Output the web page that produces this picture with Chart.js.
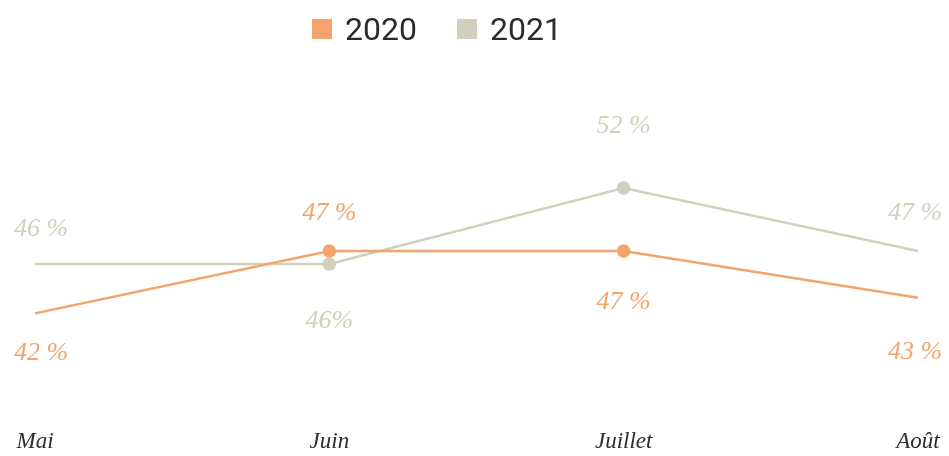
<!DOCTYPE html>
<html>
<head>
<meta charset="utf-8">
<script src="https://cdn.jsdelivr.net/npm/chart.js@4"></script>
<style>
  html, body { margin: 0; padding: 0; background: #fff; }
  #wrap { position: relative; width: 949px; height: 456px; }
  #legend { position: absolute; top: 10px; left: 312px; display: flex; align-items: center;
            font-family: Roboto, sans-serif; font-size: 32px; color: #2a2b2e; }
  #legend span.box { display: inline-block; width: 20px; height: 20px; margin-right: 13px; }
  #legend span.item { display: flex; align-items: center; margin-right: 40px; }
</style>
</head>
<body>
<div id="wrap">
  <canvas id="chart" width="949" height="456"></canvas>
  <div id="legend"></div>
</div>
<script>
"use strict"

// == data
const months = ["Mai", "Juin", "Juillet", "Août"]
const values2020 = [42.2, 47, 47, 43.4]
const values2021 = [46, 46, 51.85, 47]
const labels2020 = ["42 %", "47 %", "47 %", "43 %"]
const labels2021 = ["46 %", "46%", "52 %", "47 %"]

const orange = "#F2A46B"
const beige = "#D2CFBC"

// where each value label sits relative to its point (px, negative = above)
const offsets2020 = [40, -38, 51, 54]
const offsets2021 = [-35, 57, -62, -38]

// legend is plain html so it can sit a bit left of centre like the original
function BuildLegend() {
    let legend = document.getElementById("legend")
    let items = [["2020", orange], ["2021", beige]]
    for (let i = 0; i < items.length; i++) {
        let el = document.createElement("span")
        el.className = "item"
        el.innerHTML = '<span class="box" style="background:' + items[i][1] + '"></span>' + items[i][0]
        legend.appendChild(el)
    }
}

const valueLabels = {
    id: "valueLabels",
    afterDatasetsDraw(chart) {
        let ctx = chart.ctx
        let texts = [labels2020, labels2021]
        let offs = [offsets2020, offsets2021]
        ctx.save()
        ctx.font = "italic 26px 'Liberation Serif', serif"
        ctx.textAlign = "center"
        ctx.textBaseline = "middle"
        chart.data.datasets.forEach(function(ds, d) {
            let meta = chart.getDatasetMeta(d)
            ctx.fillStyle = ds.borderColor
            meta.data.forEach(function(pt, i) {
                let x = pt.x
                if (i == 0) x += 6
                if (i == meta.data.length - 1) x -= 3
                ctx.fillText(texts[d][i], x, pt.y + offs[d][i])
            })
        })
        ctx.restore()
    }
}

function DisplayGraph() {
    let ctx = document.getElementById("chart").getContext("2d")
    new Chart(ctx, {
        type: "line",
        data: {
            labels: months,
            datasets: [
                {
                    label: "2020",
                    data: values2020,
                    borderColor: orange,
                    backgroundColor: orange,
                    borderWidth: 2.5,
                    pointRadius: [0, 5.5, 5.5, 0],
                    tension: 0,
                },
                {
                    label: "2021",
                    data: values2021,
                    borderColor: beige,
                    backgroundColor: beige,
                    borderWidth: 2.5,
                    pointRadius: [0, 5.5, 5.5, 0],
                    tension: 0,
                },
            ]
        },
        options: {
            responsive: false,
            animation: false,
            layout: { padding: { left: 35, right: 31, top: 60, bottom: 0 } },
            plugins: {
                legend: { display: false },
                tooltip: { enabled: false },
            },
            scales: {
                x: {
                    grid: { display: false },
                    border: { display: false },
                    afterFit: function(scale) {
                        // fixed axis height, and don't let the edge labels push the plot in
                        scale.height = 52
                        scale.paddingLeft = 0
                        scale.paddingRight = 0
                    },
                    ticks: {
                        color: "#2e2e2e",
                        padding: 16,
                        maxRotation: 0,
                        font: { family: "'Liberation Serif', serif", style: "italic", size: 23 },
                    },
                },
                y: {
                    display: false,
                    min: 35.23,
                    max: 61.69,
                },
            },
        },
        plugins: [valueLabels]
    })
}

BuildLegend()
DisplayGraph()
</script>
</body>
</html>
